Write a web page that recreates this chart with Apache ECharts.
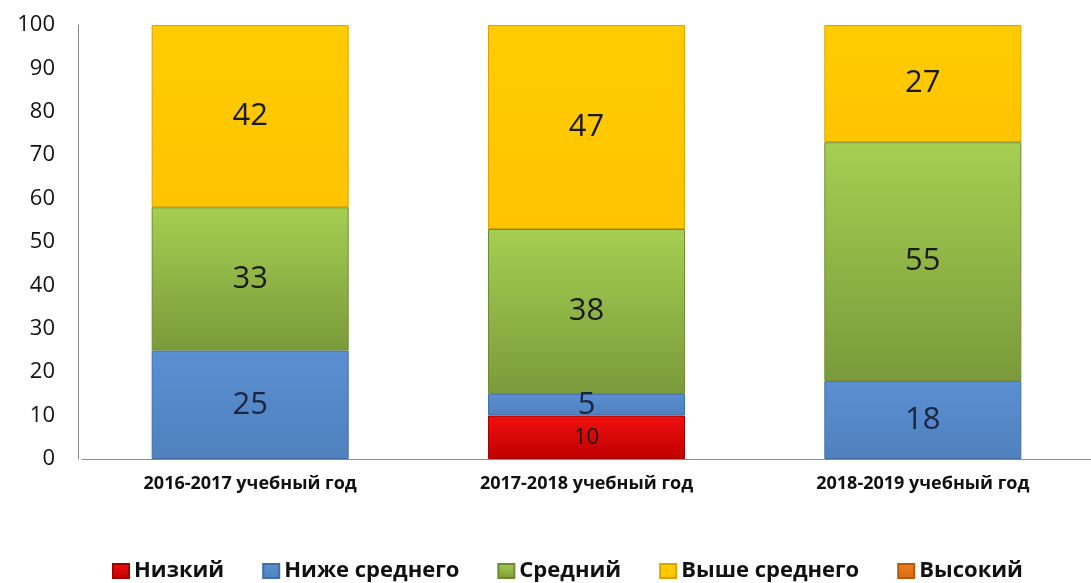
<!DOCTYPE html>
<html>
<head>
<meta charset="utf-8">
<script src="https://cdn.jsdelivr.net/npm/echarts@6/dist/echarts.min.js"></script>
<style>
  html, body { margin: 0; padding: 0; background: #fff; }
  #main { width: 1091px; height: 583px; }
</style>
</head>
<body>
<div id="main"></div>
<script>
var categories = ["2016-2017 учебный год", "2017-2018 учебный год", "2018-2019 учебный год"];
var seriesNames = ["Низкий", "Ниже среднего", "Средний", "Выше среднего", "Высокий"];
var low = [0, 10, 0];
var belowAvg = [25, 5, 18];
var avg = [33, 38, 55];
var aboveAvg = [42, 47, 27];
var high = [0, 0, 0];
var yTicks = [0, 10, 20, 30, 40, 50, 60, 70, 80, 90, 100];

var myChart = echarts.init(document.getElementById("main"));

function grad(top, bottom) {
  return new echarts.graphic.LinearGradient(0, 0, 0, 1, [
    { offset: 0, color: top },
    { offset: 1, color: bottom },
  ]);
}

var styles = [
  { color: grad("#f01010", "#c00000"), border: "#a00000", label: 22 },
  { color: grad("#5b8fd3", "#4f81bd"), border: "#3f6ea8", label: 31 },
  { color: grad("#a5cf52", "#7a9a3a"), border: "#6e8b34", label: 31 },
  { color: grad("#ffcc00", "#ffc400"), border: "#d9a400", label: 31 },
  { color: grad("#f0801e", "#d86a10"), border: "#b85a0e", label: 31 },
];
var dataSets = [low, belowAvg, avg, aboveAvg, high];

myChart.setOption({
  textStyle: { fontFamily: "Open Sans" },
  grid: {
    left: 82,
    right: 0,
    top: 25,
    bottom: 124,
    containLabel: false,
  },
  legend: {
    top: 555,
    left: 107,
    icon: "rect",
    itemWidth: 16,
    itemHeight: 14,
    itemGap: 38,
    textStyle: { fontSize: 22, fontWeight: "bold", color: "#111" },
    data: seriesNames,
  },
  xAxis: {
    type: "category",
    data: categories,
    axisTick: { show: false },
    axisLine: { lineStyle: { color: "#8c8c8c", width: 1 } },
    axisLabel: { fontSize: 18, fontWeight: "bold", color: "#111", margin: 16 },
  },
  yAxis: {
    type: "value",
    min: yTicks[0],
    max: yTicks[yTicks.length - 1],
    interval: 10,
    offset: 4,
    splitLine: { show: false },
    axisTick: { show: false },
    axisLine: { show: true, lineStyle: { color: "#8c8c8c", width: 1 } },
    axisLabel: { fontSize: 22, color: "#111", margin: 23 },
  },
  series: seriesNames.map(function (name, i) {
    return {
      name: name,
      type: "bar",
      stack: "total",
      barWidth: 197,
      // zero segments are left out so they draw no border line
      data: dataSets[i].map(function (v) { return v > 0 ? v : null; }),
      itemStyle: {
        color: styles[i].color,
        borderColor: styles[i].border,
        borderWidth: 1,
      },
      label: {
        show: true,
        position: "inside",
        fontSize: styles[i].label,
        color: i === 1 ? "#1a2540" : "#1a1a1a",
      },
    };
  }),
});
</script>
</body>
</html>
